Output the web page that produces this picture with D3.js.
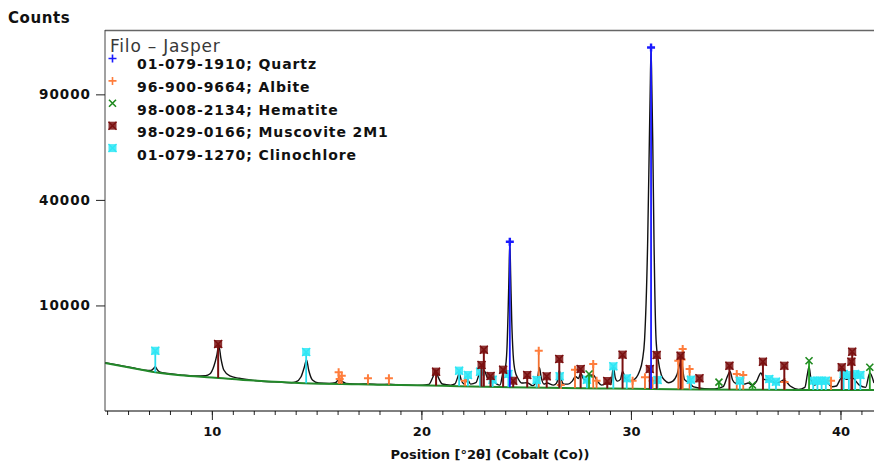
<!DOCTYPE html>
<html>
<head>
<meta charset="utf-8">
<script src="https://cdn.jsdelivr.net/npm/d3@7"></script>
<style>
  body { margin: 0; background: #fff; }
  svg { display: block; }
  text { font-family: "DejaVu Sans", Verdana, sans-serif; }
</style>
</head>
<body>
<svg id="svgCanvas" width="874" height="464"></svg>
<script>
// measured pattern (2theta, counts)
var obsPos = [4.9, 5.5, 6.2, 6.8, 7.1, 7.22, 7.3, 7.38, 7.5, 7.9, 8.5, 9.2, 9.7, 9.9, 10.1, 10.24, 10.33, 10.43, 10.57, 10.86,
  11.3, 12, 13, 13.8, 14.0, 14.25, 14.4, 14.52, 14.62, 14.8, 15.1, 15.6, 15.9, 16.05, 16.2, 16.4, 17.0, 17.45, 18, 18.45,
  19, 19.8, 20.35, 20.55, 20.68, 20.8, 21.0, 21.4, 21.6, 21.72, 21.8, 21.9, 22.05, 22.2, 22.35, 22.6, 22.8, 22.9, 23.0, 23.15,
  23.3, 23.45, 23.6, 23.75, 23.9, 24.0, 24.08, 24.14, 24.18, 24.22, 24.26, 24.31, 24.38, 24.48, 24.6, 24.8, 25.05, 25.3, 25.45, 25.55,
  25.63, 25.72, 25.85, 26.0, 26.3, 26.45, 26.52, 26.58, 26.66, 26.8, 27.0, 27.2, 27.35, 27.5, 27.6, 27.75, 27.9, 28.05, 28.2, 28.4,
  28.6, 28.87, 29.05, 29.16, 29.25, 29.35, 29.5, 29.6, 29.75, 29.9, 30.1, 30.4, 30.55, 30.65, 30.8, 30.88, 30.92, 30.96, 31.0, 31.04,
  31.1, 31.2, 31.3, 31.45, 31.6, 31.8, 32.0, 32.2, 32.4, 32.55, 32.8, 33.0, 33.5, 34.0, 34.4, 34.6, 34.73, 34.85, 35.0, 35.2,
  35.4, 35.6, 35.8, 36.0, 36.2, 36.35, 36.6, 36.9, 37.1, 37.3, 37.6, 38.0, 38.3, 38.42, 38.5, 38.6, 38.75, 39.0, 39.3, 39.6,
  39.8, 40.06, 40.3, 40.55, 40.9, 41.2, 41.4, 41.6];
var obsCounts = [2100, 1900, 1680, 1500, 1480, 1620, 1760, 1560, 1380, 1260, 1170, 1100, 1120, 1230, 1820, 2820, 3900, 2520, 1510, 1100,
  960, 840, 760, 720, 756, 1040, 1660, 2340, 1510, 863, 704, 680, 720, 870, 800, 680, 650, 660, 630, 640,
  610, 590, 630, 1040, 1500, 1040, 655, 600, 655, 980, 1265, 863, 655, 900, 650, 720, 1300, 1250, 1450, 1000,
  930, 800, 650, 600, 1370, 1660, 3340, 9160, 16600, 25400, 16600, 7440, 2820, 1370, 980, 700, 720, 580, 700, 1000,
  1700, 1000, 650, 700, 600, 700, 950, 1450, 950, 650, 650, 800, 1070, 950, 1300, 900, 850, 1150, 1165, 800,
  600, 700, 650, 1760, 1000, 800, 900, 1400, 900, 820, 860, 1390, 2340, 4530, 26300, 66000, 92600, 117500, 92600, 66000,
  26300, 4530, 2340, 1165, 860, 720, 800, 1200, 2300, 900, 700, 520, 450, 440, 530, 1060, 1400, 860, 690, 720,
  650, 700, 600, 800, 1300, 900, 860, 720, 750, 860, 560, 420, 500, 1200, 1760, 860, 600, 770, 770, 530,
  560, 1000, 900, 1000, 600, 500, 1300, 700];

// fitted background
var bgPos = [4.9, 6, 7.3, 8.5, 10, 12, 14.4, 17, 19, 21, 23.7, 26, 28.5, 31, 33.3, 36, 38, 41.6];
var bgCounts = [2070, 1720, 1345, 1150, 1010, 830, 690, 640, 607, 570, 517, 485, 455, 435, 415, 405, 400, 396];

// reference patterns
var quartzPos = [24.22, 30.96];
var quartzInt = [25400, 118000];
var albitePos = [16.05, 16.1, 16.2, 17.45, 18.45, 22.08, 25.6, 26.65, 27.33, 28.2, 28.36, 30.08, 30.67, 31.03, 32.26, 32.42, 32.47, 32.8, 35.05, 35.36, 37.33, 39.55];
var albiteInt = [1280, 860, 1060, 900, 900, 770, 3150, 560, 1460, 1900, 770, 770, 960, 770, 2180, 2300, 3340, 1510, 1165, 1100, 700, 770];
var hematitePos = [28.0, 34.2, 35.8, 38.5, 41.4];
var hematiteInt = [1165, 700, 560, 2180, 1640];
var muscovitePos = [10.3, 20.7, 22.87, 22.98, 23.3, 23.9, 24.38, 25.05, 25.98, 26.58, 27.6, 28.87, 29.6, 30.9, 31.23, 32.37, 33.27, 34.7, 36.3, 37.32, 40.06, 40.52, 40.56];
var muscoviteInt = [3910, 1320, 1820, 3270, 1040, 1460, 770, 1100, 1020, 2340, 1510, 755, 2750, 1510, 2720, 2650, 900, 1760, 2100, 1760, 1640, 2100, 3050];
var clinoPos = [7.3, 14.5, 21.8, 22.22, 22.8, 23.4, 24.15, 25.5, 26.6, 27.9, 29.16, 29.8, 31.27, 32.86, 35.2, 36.6, 36.92, 38.7, 38.9, 39.1, 39.3, 40.15, 40.4, 40.7, 40.95];
var clinoInt = [3150, 3020, 1390, 1100, 1320, 825, 1165, 810, 1020, 825, 1715, 900, 810, 825, 770, 860, 720, 770, 770, 770, 770, 1165, 1100, 1165, 1100];

var yTicks = [10000, 40000, 90000];
var xMajor = [10, 20, 30, 40];
var legendTitle = "Filo \u2013 Jasper";
var phaseNames = ["01-079-1910; Quartz", "96-900-9664; Albite", "98-008-2134; Hematite", "98-029-0166; Muscovite 2M1", "01-079-1270; Clinochlore"];

var phases = [
  {pos: albitePos, val: albiteInt, color: "#ff7d3c", stick: "#f2702e", sym: "plus", sw: 2},
  {pos: clinoPos, val: clinoInt, color: "#2ee6f5", stick: "#28dcee", sym: "box", sw: 2},
  {pos: muscovitePos, val: muscoviteInt, color: "#7a1010", stick: "#7a1010", sym: "box", sw: 2},
  {pos: hematitePos, val: hematiteInt, color: "#1f8a1f", stick: "#22a022", sym: "cross", sw: 1.6},
  {pos: quartzPos, val: quartzInt, color: "#1a1aff", stick: "#1a1aff", sym: "plus", sw: 2.4}
];
var legendOrder = [4, 0, 3, 2, 1];

var svg = d3.select("#svgCanvas");
var x = d3.scaleLinear().domain([4.9, 41.6]).range([105, 874]);
var y = d3.scaleSqrt().domain([0, 130300]).range([411, 30]);
var bg = d3.scaleLinear().domain(bgPos).range(bgCounts);

// frame
svg.append("line").attr("x1", 105).attr("x2", 874).attr("y1", 30.5).attr("y2", 30.5)
  .attr("stroke", "#666").attr("stroke-width", 1.6);

// measured + background
var line = d3.line().curve(d3.curveMonotoneX);
svg.append("path")
  .attr("d", line(obsPos.map(function(d, i){ return [x(d), y(obsCounts[i])]; })))
  .attr("fill", "none").attr("stroke", "#111").attr("stroke-width", 1.4);
svg.append("path")
  .attr("d", line(bgPos.map(function(d, i){ return [x(d), y(bgCounts[i])]; })))
  .attr("fill", "none").attr("stroke", "#23892a").attr("stroke-width", 2);

function marker(g, sym, cx, cy, color, sw) {
  if (sym === "plus") {
    g.append("path").attr("d", "M" + (cx - 4) + "," + cy + "h8M" + cx + "," + (cy - 4) + "v8")
      .attr("stroke", color).attr("stroke-width", sw).attr("fill", "none");
  } else if (sym === "cross") {
    g.append("path").attr("d", "M" + (cx - 3.5) + "," + (cy - 3.5) + "l7,7M" + (cx + 3.5) + "," + (cy - 3.5) + "l-7,7")
      .attr("stroke", color).attr("stroke-width", sw).attr("fill", "none");
  } else {
    g.append("rect").attr("x", cx - 4).attr("y", cy - 4).attr("width", 8).attr("height", 8)
      .attr("fill", color).attr("opacity", 0.85);
    g.append("path").attr("d", "M" + (cx - 4) + "," + (cy - 4) + "l8,8M" + (cx + 4) + "," + (cy - 4) + "l-8,8")
      .attr("stroke", color).attr("stroke-width", 1.4).attr("fill", "none");
  }
}

// sticks and markers
phases.forEach(function(p) {
  var g = svg.append("g");
  g.selectAll("line").data(p.pos).enter().append("line")
    .attr("x1", function(d){ return x(d); }).attr("x2", function(d){ return x(d); })
    .attr("y1", function(d){ return y(bg(d)); })
    .attr("y2", function(d, i){ return y(p.val[i]); })
    .attr("stroke", p.stick).attr("stroke-width", p.sym === "box" && p.color === "#7a1010" ? 2 : 1.8);
  p.pos.forEach(function(d, i) {
    marker(g, p.sym, x(d), y(p.val[i]) - 1, p.color, p.sw);
  });
});

// axes
var minor = d3.axisBottom(x).tickValues(d3.range(5, 42)).tickSize(4).tickFormat("");
svg.append("g").attr("transform", "translate(0,411)").call(minor)
  .call(function(g){ g.select(".domain").remove(); });
var major = d3.axisBottom(x).tickValues(xMajor).tickSize(9).tickPadding(7).tickFormat(d3.format("d"));
svg.append("g").attr("transform", "translate(0,411)").call(major)
  .call(function(g){ g.select(".domain").attr("d", "M105,0H874"); })
  .selectAll("text").attr("font-size", 13).attr("font-weight", "bold").attr("fill", "#111")
  .attr("font-family", "DejaVu Sans");

var yAxis = d3.axisLeft(y).tickValues(yTicks).tickSize(9).tickPadding(5).tickFormat(d3.format("d"));
svg.append("g").attr("transform", "translate(105,0)").call(yAxis)
  .call(function(g){ g.select(".domain").attr("d", "M0,30V411").attr("stroke", "#444"); })
  .selectAll("text").attr("font-size", 13.5).attr("font-weight", "bold").attr("fill", "#111")
  .attr("letter-spacing", 1).attr("font-family", "DejaVu Sans");

svg.selectAll(".tick line").attr("stroke", "#222");

// titles
svg.append("text").attr("x", 8).attr("y", 23).text("Counts")
  .attr("font-size", 15).attr("font-weight", "bold").attr("fill", "#111").attr("letter-spacing", 0.6);
svg.append("text").attr("x", 490).attr("y", 459).attr("text-anchor", "middle")
  .text("Position [\u00b02\u03b8] (Cobalt (Co))")
  .attr("font-size", 13).attr("font-weight", "bold").attr("fill", "#111");

// legend
svg.append("text").attr("x", 110).attr("y", 52).text(legendTitle)
  .attr("font-size", 17).attr("fill", "#383838").attr("letter-spacing", 0.8);
legendOrder.forEach(function(k, i) {
  var p = phases[k];
  var lg = svg.append("g");
  marker(lg, p.sym, 112.5, 58.5 + i * 22.4, p.color, p.sym === "plus" ? 1.6 : p.sw);
  lg.append("text").attr("x", 137).attr("y", 69 + i * 22.75).text(phaseNames[i])
    .attr("font-size", 14).attr("font-weight", "bold").attr("fill", "#111").attr("letter-spacing", 0.9);
});
</script>
</body>
</html>
